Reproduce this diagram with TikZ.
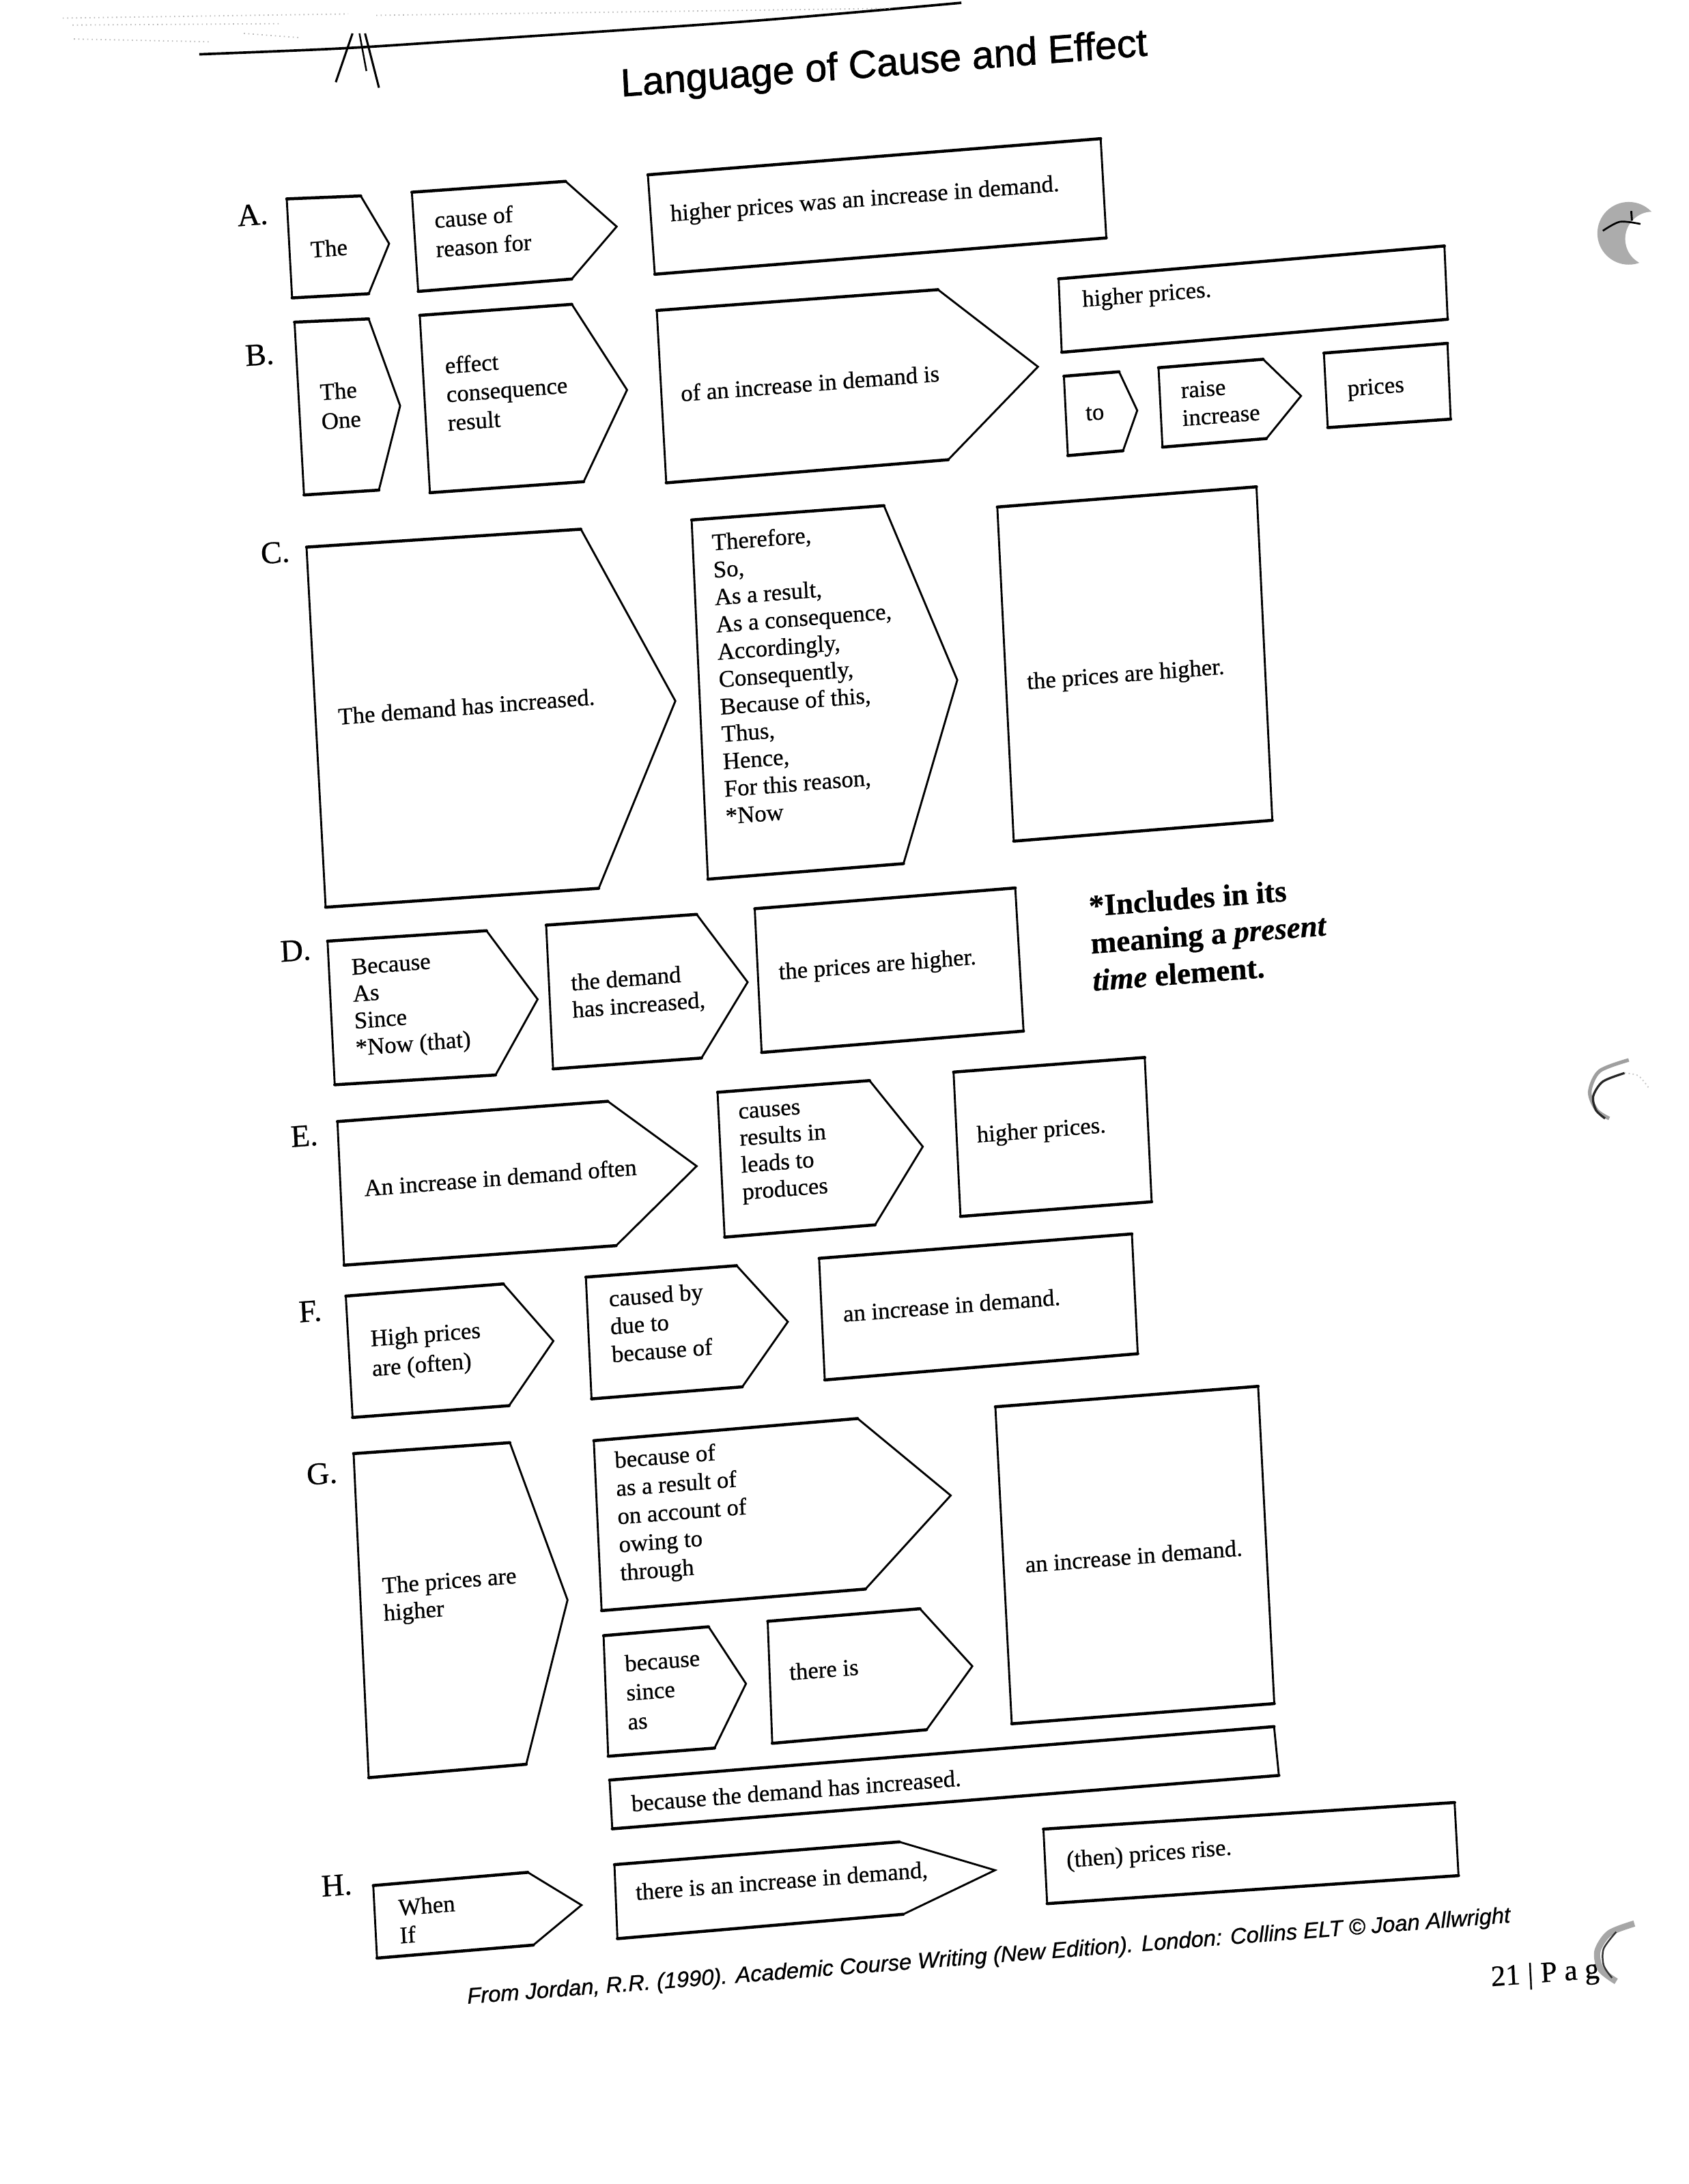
\documentclass[tikz,border=0pt]{standalone}
\usepackage{fontspec}
\setmainfont{Liberation Serif}[FakeBold=0.6]
\newfontfamily\headfont{Liberation Sans}[FakeBold=1.2]
\newfontfamily\srcfont{Liberation Sans}[FakeBold=0.8]
% pentagon arrow box: corners after the top-left one (origin)
\newcommand{\pentbox}[4]{\draw[boxline] (0,0) -- #1 -- #2 -- #3 -- #4 -- cycle;
  \draw[hline] (0,0) -- #1 #4 -- #3;}
% plain four-sided box
\newcommand{\quadbox}[3]{\draw[boxline] (0,0) -- #1 -- #2 -- #3 -- cycle;
  \draw[hline] (0,0) -- #1 #3 -- #2;}
\begin{document}
\begin{tikzpicture}[x=1pt,y=-1pt,
  tilt/.style 2 args={shift={(#1,#2)},cm={1,0.078,-0.05,1,(0,0)}},
  boxline/.style={line width=1.4pt,line join=miter},
  hline/.style={line width=2.2pt,line cap=round},
  txt/.style={transform shape,inner sep=0pt,anchor=west,align=left,font=\fontsize{17}{#1}\selectfont},
  txt/.default=20,
  lbl/.style={transform shape,inner sep=0pt,anchor=west,font=\fontsize{22.5}{24}\selectfont},
  scanmark/.style={gray!55,line width=0.9pt,dash pattern=on 0.8pt off 2.4pt}]

\fill[white] (0,0) rectangle (1212,1568);
\useasboundingbox (0,0) rectangle (1212,1568);

% ---- header rule, binding mark, faint bleed-through at the top ----
\draw[line width=1.8pt] plot[smooth] coordinates {(143,39) (240,35) (320,30) (534,15.5) (690,2)};
\draw[line width=1.5pt] (253,24) -- (241,59);
\draw[line width=1.2pt] (258,24) -- (263,51);
\draw[line width=1.5pt] (262,24) -- (272,63);
\draw[scanmark] (45,13) -- (250,10) (270,11) -- (640,6);
\draw[scanmark] (52,18) -- (200,17);
\draw[scanmark] (53,28) -- (150,30) (175,24) -- (215,27);

% ---- title ----
\begin{scope}[tilt={445.8}{69.4}]
  \node[transform shape,inner sep=0pt,anchor=base west,font=\headfont\fontsize{28}{30}\selectfont] (title) at (0,0) {Language of Cause and Effect};
\end{scope}

% ---- row labels ----
\begin{scope}[tilt={170.2}{155.2}]\node[lbl] (labA) at (0,0) {A.};\end{scope}
\begin{scope}[tilt={175.8}{255.6}]\node[lbl] (labB) at (0,0) {B.};\end{scope}
\begin{scope}[tilt={187}{397.6}]\node[lbl] (labC) at (0,0) {C.};\end{scope}
\begin{scope}[tilt={201}{683.4}]\node[lbl] (labD) at (0,0) {D.};\end{scope}
\begin{scope}[tilt={208.5}{816.4}]\node[lbl] (labE) at (0,0) {E.};\end{scope}
\begin{scope}[tilt={214.3}{942.2}]\node[lbl] (labF) at (0,0) {F.};\end{scope}
\begin{scope}[tilt={219.9}{1058.9}]\node[lbl] (labG) at (0,0) {G.};\end{scope}
\begin{scope}[tilt={230.5}{1354.5}]\node[lbl] (labH) at (0,0) {H.};\end{scope}

% ---- row A ----
\begin{scope}[tilt={205.8}{142.8}]
  \pentbox{(53,2)}{(71.6,37.7)}{(55.2,72.4)}{(0.3,71.1)}
  \node[txt] (a1) at (15,37.6) {The};
\end{scope}
\begin{scope}[tilt={295.6}{138}]
  \pentbox{(110.3,0.8)}{(145.2,36)}{(111.2,71)}{(1,71.3)}
  \node[txt=21] (a2) at (15,31.5) {cause of\\reason for};
\end{scope}
\begin{scope}[tilt={465}{125.5}]
  \quadbox{(325,-0.6)}{(325.5,70.7)}{(1.4,71.5)}
  \node[txt] (a3) at (14.5,30.5) {higher prices was an increase in demand.};
\end{scope}

% ---- row B ----
\begin{scope}[tilt={211.4}{231.3}]
  \pentbox{(53.1,1.8)}{(72.5,65.7)}{(54.3,124.8)}{(0.6,124.1)}
  \node[txt=21] (b1) at (15.5,62) {The\\One};
\end{scope}
\begin{scope}[tilt={301.3}{226.4}]
  \pentbox{(109.1,0.6)}{(145.5,64.9)}{(111.2,128.1)}{(0.9,127.4)}
  \node[txt=20.5] (b2) at (16,57.8) {effect\\consequence\\result};
\end{scope}
\begin{scope}[tilt={471.4}{222.9}]
  \pentbox{(201.8,0.8)}{(270.5,61.5)}{(203,123)}{(0.6,123.8)}
  \node[txt] (b3) at (14,60.5) {of an increase in demand is};
\end{scope}
\begin{scope}[tilt={759.8}{200.2}]
  \quadbox{(277,-2)}{(276.7,50.6)}{(-0.4,52.7)}
  \node[txt] (b4) at (16,17.3) {higher prices.};
\end{scope}
\begin{scope}[tilt={763.6}{270.1}]
  \pentbox{(39.6,-0.1)}{(51.2,28.6)}{(39.6,56.6)}{(0,57)}
  \node[txt] (b5) at (14,28.3) {to};
\end{scope}
\begin{scope}[tilt={831.5}{264}]
  \pentbox{(75.1,-0.2)}{(100.9,28.1)}{(74.6,56.7)}{(0,57)}
  \node[txt] (b6) at (15,27.5) {raise\\increase};
\end{scope}
\begin{scope}[tilt={950.2}{253.5}]
  \quadbox{(88.7,-0.1)}{(88.3,54.3)}{(0.1,53.5)}
  \node[txt] (b7) at (15.4,28.4) {prices};
\end{scope}

% ---- row C ----
\begin{scope}[tilt={220}{392.8}]
  \pentbox{(196.8,2.5)}{(258.2,130.6)}{(196.7,260.3)}{(0.8,258.6)}
  \node[txt] (c1) at (16.4,123) {The demand has increased.};
\end{scope}
\begin{scope}[tilt={496.4}{373.3}]
  \pentbox{(138,0.5)}{(184.2,129.3)}{(139.2,257.6)}{(-1.2,257.8)}
  \node[txt=19.65] (c2) at (13.5,115.3) {Therefore,\\So,\\As a result,\\As a consequence,\\Accordingly,\\Consequently,\\Because of this,\\Thus,\\Hence,\\For this reason,\\*Now};
\end{scope}
\begin{scope}[tilt={715.8}{364}]
  \quadbox{(186,0)}{(185.4,239.4)}{(-0.2,239.9)}
  \node[txt] (c3) at (14.8,128) {the prices are higher.};
\end{scope}

% ---- row D ----
\begin{scope}[tilt={235.1}{675.7}]
  \pentbox{(114,1.4)}{(148.1,53.3)}{(115.3,105.1)}{(0,103.1)}
  \node[txt=19.33] (d1) at (16,50.7) {Because\\As\\Since\\*Now (that)};
\end{scope}
\begin{scope}[tilt={392}{664.2}]
  \pentbox{(108,0.7)}{(142,52)}{(106.3,103.7)}{(-0.2,103.2)}
  \node[txt=19.5] (d2) at (15.5,53.4) {the demand\\has increased,};
\end{scope}
\begin{scope}[tilt={541.7}{652.4}]
  \quadbox{(187,-0.3)}{(187.8,102.5)}{(-0.2,103.2)}
  \node[txt] (d3) at (14.7,48) {the prices are higher.};
\end{scope}
\begin{scope}[tilt={781.4}{651.5}]
  \node[transform shape,inner sep=0pt,anchor=west,align=left,font=\bfseries\fontsize{22}{26.7}\selectfont] (note) at (0,25.7)
    {*Includes in its\\meaning a \textit{present}\\\textit{time} element.};
\end{scope}

% ---- row E ----
\begin{scope}[tilt={242.2}{805.2}]
  \pentbox{(194,0.6)}{(255.2,51.9)}{(194.8,104.3)}{(-0.4,103.1)}
  \node[txt] (e1) at (16.6,49) {An increase in demand often};
\end{scope}
\begin{scope}[tilt={515}{784.2}]
  \pentbox{(109.1,0.1)}{(144.8,50.3)}{(107.9,103.6)}{(-0.1,104)}
  \node[txt=19.33] (e2) at (14,47) {causes\\results in\\leads to\\produces};
\end{scope}
\begin{scope}[tilt={684.4}{769.7}]
  \quadbox{(137.2,0.2)}{(137,103.8)}{(-0.2,103.6)}
  \node[txt] (e3) at (14.2,47.6) {higher prices.};
\end{scope}

% ---- row F ----
\begin{scope}[tilt={248.2}{930.5}]
  \pentbox{(113.1,0.1)}{(146.8,43.7)}{(112.8,87.5)}{(0.5,87.2)}
  \node[txt=21.4] (f1) at (16,44) {High prices\\are (often)};
\end{scope}
\begin{scope}[tilt={420.5}{916.9}]
  \pentbox{(108.2,0.2)}{(142.8,43.2)}{(107.9,87.2)}{(-0.3,87.4)}
  \node[txt] (f2) at (15.5,36.6) {caused by\\due to\\because of};
\end{scope}
\begin{scope}[tilt={587.9}{903.4}]
  \quadbox{(224.5,0)}{(224.4,86)}{(-0.3,87.3)}
  \node[txt] (f3) at (15,41) {an increase in demand.};
\end{scope}

% ---- row G ----
\begin{scope}[tilt={253.8}{1043.6}]
  \pentbox{(112.1,0.9)}{(147.7,116.6)}{(112.3,231.8)}{(-0.8,232.6)}
  \node[txt=19.5] (g1) at (15.5,107.5) {The prices are\\higher};
\end{scope}
\begin{scope}[tilt={426.2}{1034.3}]
  \pentbox{(189.4,-1.1)}{(253.2,59.1)}{(188.9,121.3)}{(-0.5,122)}
  \node[txt=20.2] (g2) at (14,57) {because of\\as a result of\\on account of\\owing to\\through};
\end{scope}
\begin{scope}[tilt={433.2}{1174.3}]
  \pentbox{(75.4,-0.5)}{(100.1,42.3)}{(75.3,86.6)}{(-1,86.5)}
  \node[txt=20.9] (g3) at (14,42) {because\\since\\as};
\end{scope}
\begin{scope}[tilt={551}{1164}]
  \pentbox{(109.3,-0.5)}{(144.7,43.5)}{(109.7,86.4)}{(-1.1,87.5)}
  \node[txt] (g4) at (13.5,37.5) {there is};
\end{scope}
\begin{scope}[tilt={714.4}{1010}]
  \quadbox{(188.6,0)}{(188.8,227.8)}{(0.4,227.6)}
  \node[txt] (g5) at (15.5,114.5) {an increase in demand.};
\end{scope}
\begin{scope}[tilt={437.5}{1278}]
  \quadbox{(477,-1.2)}{(478.7,34)}{(0.2,35)}
  \node[txt] (g6) at (14.6,18) {because the demand has increased.};
\end{scope}

% ---- row H ----
\begin{scope}[tilt={267.9}{1353.7}]
  \pentbox{(111,-0.8)}{(148.2,25.6)}{(112.3,51.5)}{(0.1,52.1)}
  \node[txt] (h1) at (17,27) {When\\If};
\end{scope}
\begin{scope}[tilt={441}{1338.7}]
  \pentbox{(204.5,-0.4)}{(271.9,25.2)}{(204.7,51.6)}{(-0.5,53.1)}
  \node[txt] (h2) at (14,22) {there is an increase in demand,};
\end{scope}
\begin{scope}[tilt={748.9}{1313.2}]
  \quadbox{(294.9,3.9)}{(295.1,56.4)}{(0,53.5)}
  \node[txt] (h3) at (15.2,24.7) {(then) prices rise.};
\end{scope}

% ---- source line and page number ----
\begin{scope}[tilt={335.4}{1438.6}]
  \node[transform shape,inner sep=0pt,anchor=base west,font=\srcfont\itshape\fontsize{16}{18}\selectfont] (source) at (0,0)
    {From Jordan, R.R. (1990). Academic Course Writing (New Edition). London: Collins ELT © Joan Allwright};
\end{scope}
\begin{scope}[tilt={1070}{1421}]
  \node[transform shape,inner sep=0pt,anchor=west,font=\fontsize{21}{23}\selectfont] (pageno) at (0,0) {21 | P a g};
\end{scope}

% ---- punch-hole shadows along the right margin ----
\fill[gray!65] (1169,167.5) circle (22.5);
\fill[white] (1186,171.5) circle (19.5);
\draw[black,line width=1.3pt] plot[smooth] coordinates {(1150.4,165.7) (1162.7,159.2) (1177.4,160.8)};
\draw[black,line width=1.4pt] (1170.8,151.5) -- (1171.3,158.4);

\draw[gray!75,line width=2.6pt] plot[smooth] coordinates {(1169,761) (1148,769) (1141,784) (1146,797) (1155,803)};
\draw[black!85,line width=1.6pt] plot[smooth] coordinates {(1166,770.4) (1150.4,776.5) (1143.5,787) (1145.5,797) (1152,803)};
\draw[gray!45,line width=0.9pt,dotted] plot[smooth] coordinates {(1166,770.4) (1176,772.4) (1184,782)};

\draw[gray!70,line width=4.5pt] plot[smooth] coordinates {(1173,1381) (1155,1388) (1146.5,1401) (1149,1414) (1160,1422.5)};
\draw[black!80,line width=1.2pt] plot[smooth] coordinates {(1160,1387) (1151,1399) (1151,1411) (1157,1420)};
\end{tikzpicture}
\end{document}
